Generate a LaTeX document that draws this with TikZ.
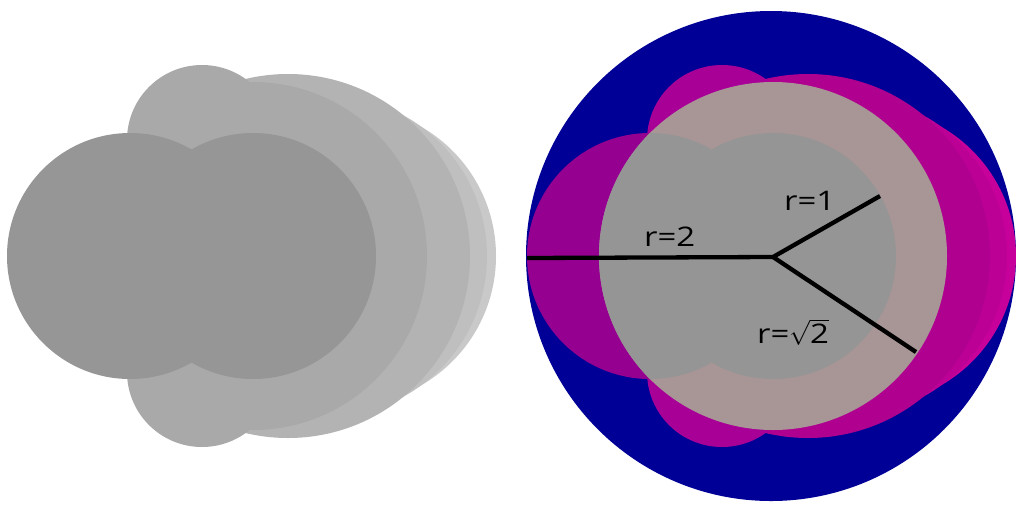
\documentclass[tikz,border=0pt]{standalone}
\usepackage{fontspec}
\setmainfont{Open Sans}
\newfontfamily\labfont[FakeStretch=1.22]{Open Sans}
\definecolor{rblue}{RGB}{0,0,150}
\definecolor{rlayerc}{RGB}{200,0,155}
\definecolor{rlayerb}{RGB}{188,0,150}
\definecolor{rlayera}{RGB}{176,0,144}
\definecolor{rbump}{RGB}{168,0,150}
\definecolor{rleft}{RGB}{150,0,144}
\definecolor{rsqrt}{RGB}{168,150,150}
\definecolor{rgray}{RGB}{149,149,149}
\definecolor{glayerc}{RGB}{201,201,201}
\definecolor{glayerb}{RGB}{191,191,191}
\definecolor{glayera}{RGB}{179,179,179}
\definecolor{gbump}{RGB}{169,169,169}
\definecolor{gsqrt}{RGB}{169,169,169}
\definecolor{gdark}{RGB}{150,150,150}
\tikzset{
  radline/.style={line width=4.3pt, black},
  lab/.style={anchor=base west, inner sep=0pt, font=\labfont\fontsize{27}{32}\selectfont}
}
\begin{document}
\begin{tikzpicture}[x=1pt,y=-1pt]
\fill[white] (0,0) rectangle (1016,504);
\useasboundingbox (0,0) rectangle (1016,504);
% ---------- left figure ----------
\fill[glayerc] (347,256) circle[radius=149pt];
\fill[glayerb] (327,256) circle[radius=160pt];
\fill[glayera] (288,256) circle[radius=182pt];
\fill[gbump] (202,140) circle[radius=75pt];
\fill[gbump] (202,372) circle[radius=75pt];
\fill[gsqrt] (253,256) circle[radius=174pt];
\fill[gdark] (130,256) circle[radius=123pt];
\fill[gdark] (253,256) circle[radius=123pt];
% ---------- right figure ----------
\fill[rblue] (771,256) circle[radius=245pt];
\fill[rlayerc] (867,256) circle[radius=149pt];
\fill[rlayerb] (847,256) circle[radius=160pt];
\fill[rlayera] (808,256) circle[radius=182pt];
\fill[rbump] (722,140) circle[radius=75pt];
\fill[rbump] (722,372) circle[radius=75pt];
\fill[rleft] (650,256) circle[radius=123pt];
\fill[rsqrt] (773,256) circle[radius=174pt];
\begin{scope}
  \clip (773,256) circle[radius=174pt];
  \fill[rgray] (650,256) circle[radius=123pt];
  \fill[rgray] (773,256) circle[radius=123pt];
\end{scope}
% radii
\coordinate (C) at (773,257);
\coordinate (E2) at (527,258);
\coordinate (E1) at (880,196);
\coordinate (Es) at (916,352);
\draw[radline] (E2) -- (C) -- (E1);
\draw[radline] (C) -- (Es);
\node[lab] (l2) at (644,246) {r=2};
\node[lab] (l1) at (784,210) {r=1};
\node[lab] (ls) at (757,343) {r=$\sqrt{\mbox{2}}$};
\end{tikzpicture}
\end{document}
